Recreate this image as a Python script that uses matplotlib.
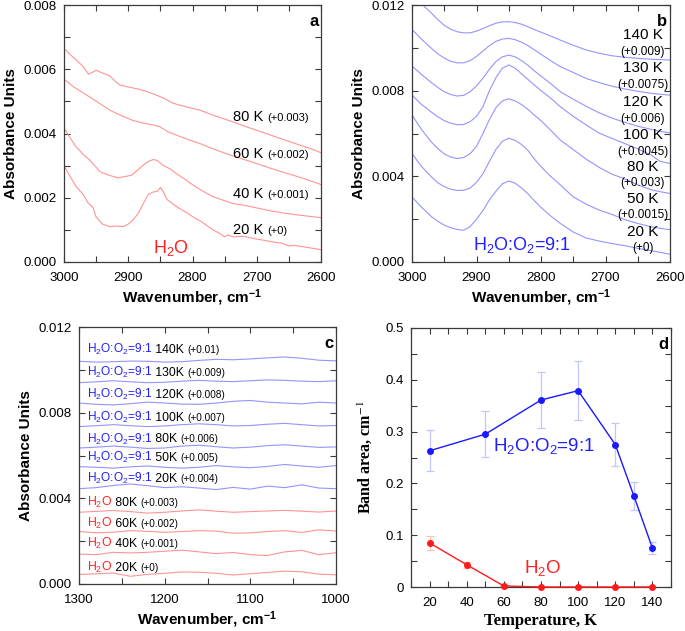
import matplotlib
matplotlib.use("Agg")
import matplotlib.pyplot as plt
from matplotlib.ticker import MultipleLocator, FormatStrFormatter

plt.rcParams['font.family'] = ['Liberation Sans', 'DejaVu Sans']
plt.rcParams['mathtext.fontset'] = 'custom'
plt.rcParams['mathtext.rm'] = 'Liberation Sans'
plt.rcParams['mathtext.it'] = 'Liberation Sans:italic'
plt.rcParams['mathtext.bf'] = 'Liberation Sans:bold'

# ---------------- Panel a: H2O, 3000-2600 cm-1 ----------------
a20_x = [3000, 2990, 2981, 2970, 2963, 2955, 2950, 2940, 2929, 2918, 2908, 2900, 2892, 2885, 2877,
         2869, 2861, 2855, 2850, 2845, 2840, 2830, 2820, 2810, 2799, 2788, 2778, 2768, 2757, 2750,
         2745, 2737, 2720, 2705, 2690, 2674, 2660, 2650, 2643, 2620, 2600]
a20_y = [0.00300, 0.00265, 0.00234, 0.00210, 0.00185, 0.00170, 0.00140, 0.00118, 0.00110, 0.00112,
         0.00110, 0.00118, 0.00132, 0.00150, 0.00180, 0.00210, 0.00218, 0.00220, 0.00232, 0.00218,
         0.00195, 0.00180, 0.00166, 0.00155, 0.00140, 0.00128, 0.00114, 0.00100, 0.00088, 0.00078,
         0.00085, 0.00078, 0.00080, 0.00073, 0.00068, 0.00062, 0.00058, 0.00050, 0.00052, 0.00045, 0.00038]
a40_x = [3000, 2990, 2981, 2970, 2960, 2950, 2944, 2930, 2916, 2905, 2895, 2886, 2877, 2869, 2861,
         2855, 2846, 2835, 2825, 2812, 2799, 2785, 2768, 2752, 2737, 2715, 2695, 2675, 2654, 2630, 2600]
a40_y = [0.00418, 0.00385, 0.00358, 0.00335, 0.00317, 0.00295, 0.00281, 0.00270, 0.00262, 0.00266,
         0.00270, 0.00285, 0.00301, 0.00313, 0.00319, 0.00316, 0.00301, 0.00290, 0.00275, 0.00258,
         0.00239, 0.00222, 0.00203, 0.00192, 0.00182, 0.00175, 0.00166, 0.00158, 0.00151, 0.00145, 0.00138]
a60_x = [3000, 2985, 2965, 2947, 2929, 2910, 2892, 2875, 2860, 2851, 2838, 2825, 2808, 2789, 2765,
         2737, 2710, 2685, 2665, 2643, 2620, 2600]
a60_y = [0.00569, 0.00545, 0.00520, 0.00497, 0.00473, 0.00455, 0.00440, 0.00432, 0.00426, 0.00421,
         0.00405, 0.00395, 0.00382, 0.00369, 0.00350, 0.00330, 0.00313, 0.00296, 0.00283, 0.00270,
         0.00255, 0.00241]
a80_x = [3000, 2990, 2981, 2970, 2962, 2956, 2950, 2940, 2929, 2920, 2913, 2900, 2882, 2870, 2857,
         2845, 2830, 2810, 2789, 2765, 2737, 2712, 2685, 2660, 2633, 2615, 2600]
a80_y = [0.00665, 0.00645, 0.00629, 0.00608, 0.00585, 0.00590, 0.00597, 0.00588, 0.00580, 0.00562,
         0.00551, 0.00545, 0.00537, 0.00530, 0.00520, 0.00510, 0.00494, 0.00483, 0.00473, 0.00455,
         0.00436, 0.00418, 0.00400, 0.00382, 0.00364, 0.00352, 0.00340]
a_labels = ["20 K", "40 K", "60 K", "80 K"]
a_offsets = ["(+0)", "(+0.001)", "(+0.002)", "(+0.003)"]

# ---------------- Panel b: H2O:O2=9:1, 3000-2600 cm-1 ----------------
b_x = [3000, 2985, 2970, 2960, 2950, 2940, 2930, 2920, 2910, 2900, 2890, 2880, 2870, 2860, 2850,
       2840, 2830, 2820, 2810, 2800, 2785, 2770, 2750, 2730, 2710, 2690, 2670, 2650, 2630, 2615, 2600]
b20 = [0.00304, 0.00255, 0.00212, 0.00190, 0.00172, 0.00160, 0.00152, 0.00148, 0.00165, 0.00200,
       0.00240, 0.00290, 0.00330, 0.00365, 0.00378, 0.00368, 0.00345, 0.00318, 0.00285, 0.00255,
       0.00215, 0.00180, 0.00140, 0.00112, 0.00098, 0.00086, 0.00076, 0.00064, 0.00053, 0.00045, 0.00036]
b50 = [0.00506, 0.00445, 0.00398, 0.00370, 0.00352, 0.00340, 0.00334, 0.00335, 0.00345, 0.00372,
       0.00412, 0.00470, 0.00525, 0.00563, 0.00578, 0.00568, 0.00548, 0.00520, 0.00480, 0.00445,
       0.00400, 0.00360, 0.00304, 0.00270, 0.00243, 0.00222, 0.00198, 0.00180, 0.00165, 0.00157, 0.00151]
b80 = [0.00686, 0.00618, 0.00560, 0.00530, 0.00505, 0.00490, 0.00483, 0.00488, 0.00505, 0.00540,
       0.00600, 0.00665, 0.00720, 0.00752, 0.00762, 0.00752, 0.00735, 0.00712, 0.00685, 0.00660,
       0.00615, 0.00569, 0.00525, 0.00480, 0.00442, 0.00410, 0.00388, 0.00360, 0.00338, 0.00328, 0.00320]
b100 = [0.00779, 0.00735, 0.00700, 0.00678, 0.00660, 0.00648, 0.00641, 0.00642, 0.00655, 0.00680,
        0.00725, 0.00800, 0.00860, 0.00905, 0.00920, 0.00905, 0.00878, 0.00852, 0.00826, 0.00800,
        0.00765, 0.00725, 0.00680, 0.00640, 0.00602, 0.00577, 0.00553, 0.00528, 0.00500, 0.00470, 0.00460]
b120 = [0.00915, 0.00875, 0.00838, 0.00815, 0.00795, 0.00782, 0.00775, 0.00778, 0.00795, 0.00822,
        0.00858, 0.00900, 0.00935, 0.00958, 0.00966, 0.00958, 0.00940, 0.00918, 0.00892, 0.00868,
        0.00833, 0.00795, 0.00760, 0.00727, 0.00697, 0.00672, 0.00652, 0.00634, 0.00620, 0.00610, 0.00603]
b130 = [0.01086, 0.01040, 0.00998, 0.00972, 0.00952, 0.00937, 0.00930, 0.00930, 0.00940, 0.00960,
        0.00985, 0.01010, 0.01030, 0.01041, 0.01044, 0.01038, 0.01026, 0.01010, 0.00990, 0.00970,
        0.00940, 0.00912, 0.00885, 0.00857, 0.00838, 0.00821, 0.00808, 0.00797, 0.00788, 0.00783, 0.00779]
b140 = [0.01250, 0.01205, 0.01162, 0.01132, 0.01105, 0.01087, 0.01075, 0.01070, 0.01070, 0.01078,
        0.01090, 0.01103, 0.01115, 0.01121, 0.01122, 0.01118, 0.01110, 0.01098, 0.01085, 0.01073,
        0.01055, 0.01036, 0.01012, 0.00990, 0.00975, 0.00963, 0.00956, 0.00951, 0.00947, 0.00945, 0.00943]
b_labels = ["20 K", "50 K", "80 K", "100 K", "120 K", "130 K", "140 K"]
b_offsets = ["(+0)", "(+0.0015)", "(+0.003)", "(+0.0045)", "(+0.006)", "(+0.0075)", "(+0.009)"]

# ---------------- Panel c: 1300-1000 cm-1 ----------------
c_x = [1300, 1280, 1260, 1240, 1220, 1200, 1180, 1160, 1140, 1120, 1100, 1080, 1060, 1040, 1020, 1000]
c_h2o_20 = [0.00044, 0.00048, 0.00051, 0.00036, 0.00045, 0.00050, 0.00056, 0.00055, 0.00050, 0.00042,
            0.00048, 0.00054, 0.00060, 0.00057, 0.00046, 0.00043]
c_h2o_40 = [0.00140, 0.00137, 0.00148, 0.00145, 0.00148, 0.00153, 0.00158, 0.00150, 0.00142, 0.00147,
            0.00137, 0.00133, 0.00150, 0.00157, 0.00137, 0.00146]
c_h2o_60 = [0.00245, 0.00239, 0.00242, 0.00249, 0.00246, 0.00241, 0.00245, 0.00249, 0.00247, 0.00237,
            0.00239, 0.00245, 0.00249, 0.00241, 0.00253, 0.00247]
c_h2o_80 = [0.00335, 0.00339, 0.00343, 0.00338, 0.00331, 0.00335, 0.00341, 0.00346, 0.00340, 0.00335,
            0.00338, 0.00341, 0.00344, 0.00340, 0.00336, 0.00341]
c_mix_20 = [0.00445, 0.00450, 0.00460, 0.00467, 0.00459, 0.00450, 0.00454, 0.00448, 0.00441, 0.00451,
            0.00443, 0.00457, 0.00450, 0.00463, 0.00448, 0.00445]
c_mix_50 = [0.00548, 0.00545, 0.00541, 0.00547, 0.00551, 0.00545, 0.00541, 0.00545, 0.00553, 0.00547,
            0.00543, 0.00549, 0.00558, 0.00551, 0.00545, 0.00553]
c_mix_80 = [0.00635, 0.00639, 0.00644, 0.00639, 0.00633, 0.00635, 0.00644, 0.00648, 0.00641, 0.00635,
            0.00639, 0.00646, 0.00650, 0.00644, 0.00638, 0.00640]
c_mix_100 = [0.00735, 0.00739, 0.00744, 0.00739, 0.00735, 0.00738, 0.00744, 0.00748, 0.00744, 0.00738,
             0.00740, 0.00746, 0.00750, 0.00744, 0.00738, 0.00740]
c_mix_120 = [0.00845, 0.00839, 0.00836, 0.00842, 0.00849, 0.00845, 0.00840, 0.00839, 0.00845, 0.00853,
             0.00857, 0.00849, 0.00845, 0.00841, 0.00849, 0.00845]
c_mix_130 = [0.00940, 0.00944, 0.00949, 0.00944, 0.00940, 0.00942, 0.00947, 0.00951, 0.00947, 0.00945,
             0.00949, 0.00953, 0.00951, 0.00947, 0.00945, 0.00949]
c_mix_140 = [0.01040, 0.01036, 0.01038, 0.01041, 0.01040, 0.01036, 0.01038, 0.01044, 0.01049, 0.01047,
             0.01051, 0.01056, 0.01060, 0.01054, 0.01045, 0.01042]
c_h2o_temps = ["20K", "40K", "60K", "80K"]
c_h2o_offsets = ["(+0)", "(+0.001)", "(+0.002)", "(+0.003)"]
c_mix_temps = ["20K", "50K", "80K", "100K", "120K", "130K", "140K"]
c_mix_offsets = ["(+0.004)", "(+0.005)", "(+0.006)", "(+0.007)", "(+0.008)", "(+0.009)", "(+0.01)"]

# ---------------- Panel d: band area vs temperature ----------------
d_mix_T = [20, 50, 80, 100, 120, 130, 140]
d_mix_area = [0.263, 0.295, 0.361, 0.379, 0.275, 0.176, 0.075]
d_mix_err = [0.040, 0.044, 0.054, 0.057, 0.041, 0.027, 0.011]
d_h2o_T = [20, 40, 60, 80, 100, 120, 140]
d_h2o_area = [0.085, 0.043, 0.002, 0.0, 0.0, 0.0, 0.0]
d_h2o_err = [0.013, 0.006, 0.002, 0.0, 0.0, 0.0, 0.0]

RED_L = '#ff9494'
BLUE_L = '#9494ff'
SPINE = '#3a3a3a'
TICK_FS = 9.5
LAB_FS = 11

fig = plt.figure(figsize=(6.85, 6.31), dpi=100)
W, H = 685, 631


def make_ax(l, r, t, b):
    return fig.add_axes([l / W, 1 - b / H, (r - l) / W, (b - t) / H])


def style(ax):
    for s in ax.spines.values():
        s.set_color(SPINE)
        s.set_linewidth(0.9)
    ax.tick_params(which='both', direction='in', top=True, right=True, color=SPINE,
                   labelsize=TICK_FS, width=0.8)
    ax.tick_params(which='major', length=4)
    ax.tick_params(which='minor', length=4)
    ax.tick_params(axis='x', which='major', pad=7)
    ax.tick_params(axis='y', which='major', pad=5)


axA = make_ax(64, 321, 5, 262)
axB = make_ax(412, 670, 5, 262)
axC = make_ax(79, 336, 327, 584)
axD = make_ax(411, 671, 328, 587)

xlab = 'Wavenumber, cm$^{\\mathbf{-1}}$'

# ---- A ----
for xs, ys in [(a20_x, a20_y), (a40_x, a40_y), (a60_x, a60_y), (a80_x, a80_y)]:
    axA.plot(xs, ys, color=RED_L, lw=0.8)
axA.set_xlim(3000, 2600)
axA.set_ylim(0, 0.008)
axA.xaxis.set_major_locator(MultipleLocator(100))
axA.xaxis.set_minor_locator(MultipleLocator(50))
axA.yaxis.set_major_locator(MultipleLocator(0.002))
axA.yaxis.set_minor_locator(MultipleLocator(0.001))
axA.yaxis.set_major_formatter(FormatStrFormatter('%.3f'))
style(axA)
axA.set_xlabel(xlab, fontsize=LAB_FS, fontweight='bold', labelpad=3)
axA.set_ylabel('Absorbance Units', fontsize=LAB_FS, fontweight='bold', labelpad=4)

# ---- B ----
for ys in [b20, b50, b80, b100, b120, b130, b140]:
    axB.plot(b_x, ys, color=BLUE_L, lw=0.8)
axB.set_xlim(3000, 2600)
axB.set_ylim(0, 0.012)
axB.xaxis.set_major_locator(MultipleLocator(100))
axB.xaxis.set_minor_locator(MultipleLocator(50))
axB.yaxis.set_major_locator(MultipleLocator(0.004))
axB.yaxis.set_minor_locator(MultipleLocator(0.002))
axB.yaxis.set_major_formatter(FormatStrFormatter('%.3f'))
style(axB)
axB.set_xlabel(xlab, fontsize=LAB_FS, fontweight='bold', labelpad=3)
axB.set_ylabel('Absorbance Units', fontsize=LAB_FS, fontweight='bold', labelpad=4)

# ---- C ----
for ys in [c_h2o_20, c_h2o_40, c_h2o_60, c_h2o_80]:
    axC.plot(c_x, ys, color=RED_L, lw=0.8)
for ys in [c_mix_20, c_mix_50, c_mix_80, c_mix_100, c_mix_120, c_mix_130, c_mix_140]:
    axC.plot(c_x, ys, color=BLUE_L, lw=0.8)
axC.set_xlim(1300, 1000)
axC.set_ylim(0, 0.012)
axC.xaxis.set_major_locator(MultipleLocator(100))
axC.xaxis.set_minor_locator(MultipleLocator(50))
axC.yaxis.set_major_locator(MultipleLocator(0.004))
axC.yaxis.set_minor_locator(MultipleLocator(0.002))
axC.yaxis.set_major_formatter(FormatStrFormatter('%.3f'))
style(axC)
axC.set_xlabel(xlab, fontsize=LAB_FS, fontweight='bold', labelpad=3)
axC.set_ylabel('Absorbance Units', fontsize=LAB_FS, fontweight='bold', labelpad=4)

# ---- D ----
axD.errorbar(d_mix_T, d_mix_area, yerr=d_mix_err, fmt='none', ecolor='#c4c4ff', elinewidth=0.9,
             capsize=3, capthick=0.9, zorder=1)
axD.errorbar(d_h2o_T, d_h2o_area, yerr=d_h2o_err, fmt='none', ecolor='#ffc0c0', elinewidth=0.9,
             capsize=3, capthick=0.9, zorder=1)
axD.plot(d_mix_T, d_mix_area, color='#1a1aff', lw=1.0, marker='o', ms=4, zorder=3)
axD.plot(d_h2o_T, d_h2o_area, color='#ff1a1a', lw=1.0, marker='o', ms=4, zorder=3, clip_on=False)
axD.set_xlim(10, 150)
axD.set_ylim(0, 0.5)
axD.xaxis.set_major_locator(MultipleLocator(20))
axD.xaxis.set_minor_locator(MultipleLocator(10))
axD.yaxis.set_major_locator(MultipleLocator(0.1))
axD.yaxis.set_minor_locator(MultipleLocator(0.05))
axD.yaxis.set_major_formatter(plt.FuncFormatter(lambda v, p: '0' if abs(v) < 1e-9 else f'{v:.1f}'))
style(axD)
axD.set_xlabel('Temperature, K', fontsize=12, fontweight='bold', family='Liberation Serif', labelpad=3)
axD.set_ylabel('Band area, cm$^{-1}$', fontsize=11.5, fontweight='bold', family='Liberation Serif',
               math_fontfamily='stix', labelpad=8)

# ---- panel letters ----
for ax, letter in [(axA, 'a'), (axB, 'b'), (axC, 'c'), (axD, 'd')]:
    ax.text(0.99, 0.935, letter, transform=ax.transAxes, ha='right', va='center',
            fontsize=12, fontweight='bold')

# ---- big species labels ----
axA.text(2833, 0.00045, 'H$_2$O', color='#ff2020', fontsize=13, ha='center', va='center')
axB.text(2830, 0.00080, 'H$_2$O:O$_2$=9:1', color='#2020ff', fontsize=13, ha='center', va='center')
axD.text(54, 0.272, 'H$_2$O:O$_2$=9:1', color='#2020ff', fontsize=13.5, ha='left', va='center')
axD.text(71, 0.036, 'H$_2$O', color='#ff2020', fontsize=13.5, ha='left', va='center')

fig.canvas.draw()
renderer = fig.canvas.get_renderer()


def chain(ax, x, y, parts):
    """Draw parts (text, color, size) one after another on a common baseline."""
    cur = x
    for s, col, fs in parts:
        t = ax.text(cur, y, s, color=col, fontsize=fs, ha='left', va='baseline')
        bb = t.get_window_extent(renderer)
        cur = ax.transData.inverted().transform((bb.x1, bb.y0))[0]


a_label_y = [0.00101, 0.00215, 0.00338, 0.00455]
for lab, off, yc in zip(a_labels, a_offsets, a_label_y):
    chain(axA, 2737, yc - 0.00015, [(lab + ' ', 'black', 10.5), (off, 'black', 8)])

b_lab_y = [0.00140, 0.00293, 0.00444, 0.00592, 0.00748, 0.00904, 0.01060]
b_off_y = [0.00067, 0.00218, 0.00369, 0.00514, 0.00670, 0.00826, 0.00982]
for lab, off, y1, y2 in zip(b_labels, b_offsets, b_lab_y, b_off_y):
    axB.text(2642, y1, lab, fontsize=11, ha='center', va='center')
    axB.text(2642, y2, off, fontsize=8.5, ha='center', va='center')

c_h2o_y = [0.00082, 0.00195, 0.00288, 0.00386]
for tl, off, yc in zip(c_h2o_temps, c_h2o_offsets, c_h2o_y):
    chain(axC, 1291, yc - 0.00020, [('H$_2$O', '#ff2020', 8.8), (' ' + tl + ' ', 'black', 8.8),
                                    (off, 'black', 7.2)])
c_mix_y = [0.00496, 0.00596, 0.00681, 0.00782, 0.00888, 0.00992, 0.01098]
for tl, off, yc in zip(c_mix_temps, c_mix_offsets, c_mix_y):
    chain(axC, 1291, yc - 0.00020, [('H$_2$O:O$_2$=9:1', '#2020ff', 8.6), (' ' + tl + ' ', 'black', 8.8),
                                    (off, 'black', 7.2)])

fig.savefig('out.png', dpi=100)
